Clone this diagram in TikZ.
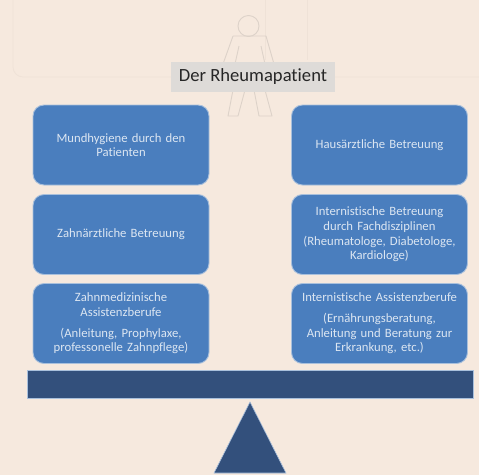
\documentclass[tikz,border=0pt]{standalone}
\usepackage{fontspec}
\setmainfont{Carlito}[Ligatures=NoCommon]
\definecolor{pagebg}{HTML}{F6E9DE}
\definecolor{boxblue}{HTML}{4A7EBE}
\definecolor{boxedge}{HTML}{A9C0DC}
\definecolor{navy}{HTML}{33507C}
\definecolor{faint}{HTML}{EFE2D7}
\definecolor{figline}{HTML}{DDD2C9}
\definecolor{labelbg}{HTML}{DEDBD8}
\definecolor{boxtext}{HTML}{DCE6F2}
\begin{document}
\begin{tikzpicture}[x=1pt,y=-1pt,
  pillar/.style={draw=boxedge,line width=0.9pt,fill=boxblue,rounded corners=11pt,
    minimum width=176pt,minimum height=80pt,inner sep=1pt,align=center,
    text width=172pt,text=boxtext,font=\fontsize{12.7pt}{14.6pt}\selectfont},
  figure line/.style={draw=figline,line width=0.9pt,line join=round},
  backline/.style={draw=faint,line width=0.8pt}]
\useasboundingbox (0,0) rectangle (479,475);
\fill[pagebg] (0,0) rectangle (479,475);
% faint background outlines
\draw[backline,rounded corners=10pt] (13,0) -- (13,77) -- (479,77);
\draw[backline] (265,0) -- (265,60);
\draw[backline] (307,0) -- (307,60);
% patient figure
\draw[figure line] (248.5,26) circle (10.5);
\draw[figure line] (233,36) -- (266,36) -- (274,64) (233,36) -- (223,64);
\draw[figure line] (239,46) -- (235,64) (261,46) -- (265,64);
\draw[figure line] (233,90) -- (228,116) -- (238,116) -- (245,90);
\draw[figure line] (254,90) -- (259,116) -- (272,116) -- (265,90);
\node[fill=labelbg,minimum width=164pt,minimum height=30pt,inner sep=0pt,
  text=black!85,font=\fontsize{18.6pt}{20pt}\selectfont] (title) at (253,77) {Der Rheumapatient};
% pillars
\node[pillar] (a1) at (121,145) {Mundhygiene durch den\\Patienten};
\node[pillar] (a2) at (121,234.5) {Zahnärztliche Betreuung};
\node[pillar] (a3) at (121,323.5) {Zahnmedizinische\\Assistenzberufe\\[6pt](Anleitung, Prophylaxe,\\professonelle Zahnpflege)};
\node[pillar] (b1) at (379.5,145) {Hausärztliche Betreuung};
\node[pillar] (b2) at (379.5,234.5) {Internistische Betreuung\\durch Fachdisziplinen\\(Rheumatologe, Diabetologe,\\Kardiologe)};
\node[pillar] (b3) at (379.5,323.5) {Internistische Assistenzberufe\\[6pt](Ernährungsberatung,\\Anleitung und Beratung zur\\Erkrankung, etc.)};
% balance
\node[draw=boxedge,line width=0.9pt,fill=navy,minimum width=446pt,minimum height=28pt,inner sep=0pt] (beam) at (250,384) {};
\coordinate (apex) at (250,402);
\coordinate (baseL) at (214,473);
\coordinate (baseR) at (286,473);
\draw[draw=boxedge,line width=0.6pt,fill=navy] (apex) -- (baseR) -- (baseL) -- cycle;
\end{tikzpicture}
\end{document}
